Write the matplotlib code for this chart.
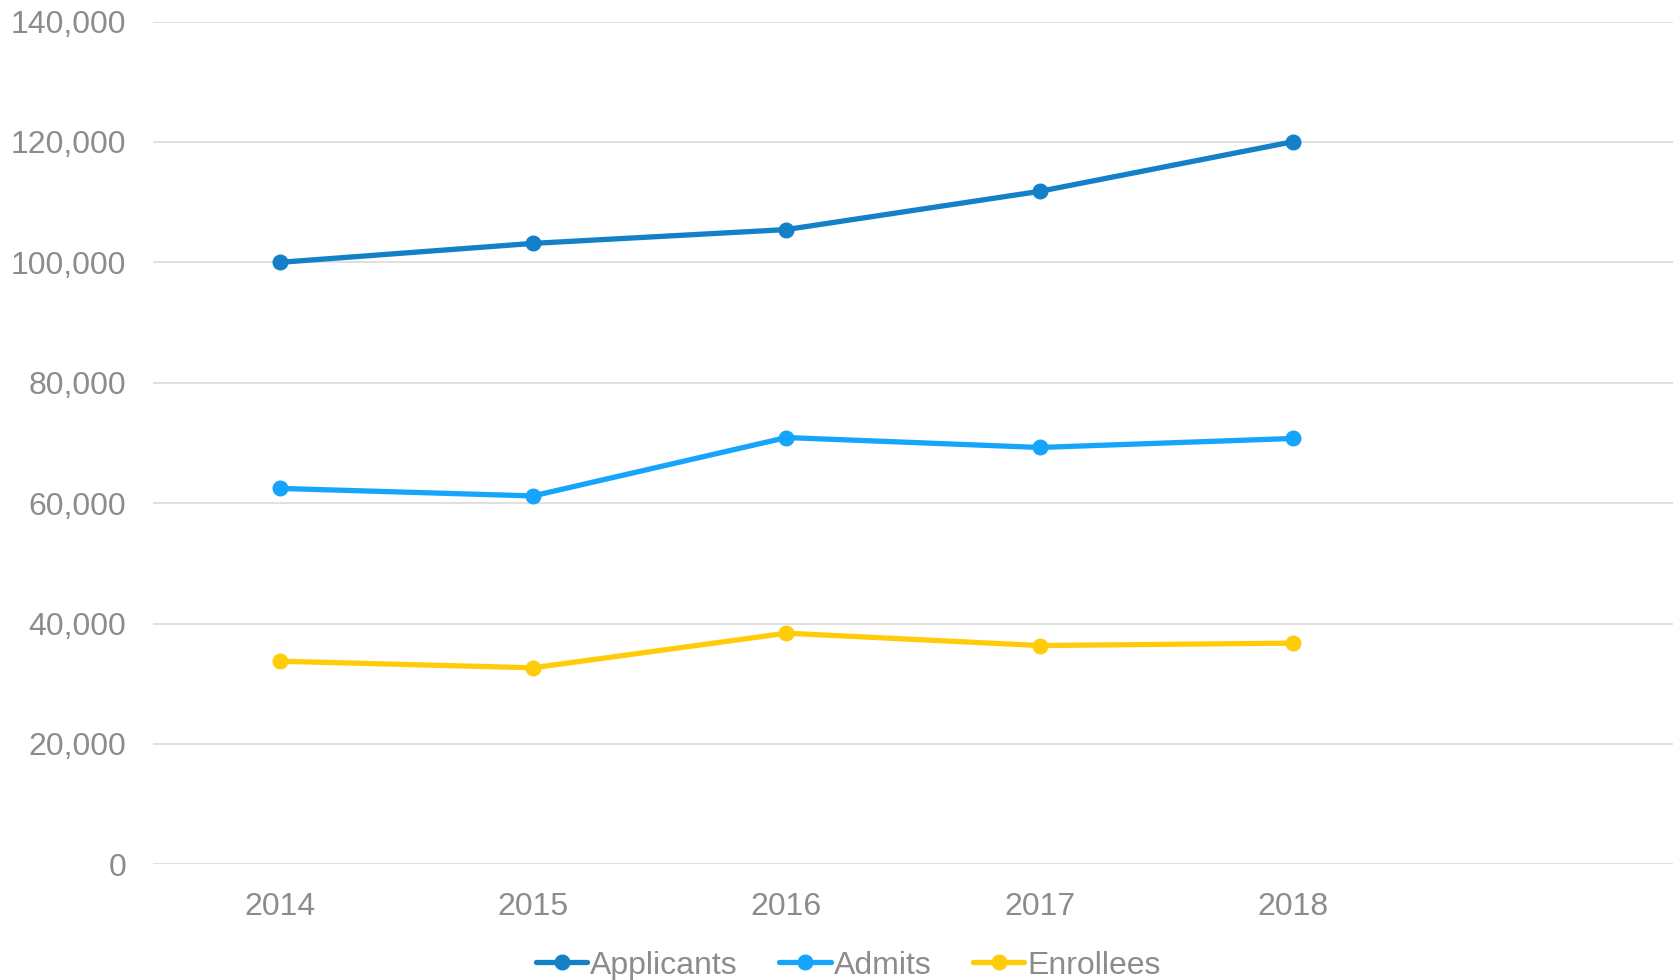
import matplotlib.pyplot as plt
from matplotlib.ticker import FuncFormatter

years = ['2014', '2015', '2016', '2017', '2018']
applicants = [100000, 103150, 105450, 111800, 120050]
admits = [62450, 61200, 70900, 69250, 70750]
enrollees = [33750, 32650, 38400, 36350, 36750]

series = [
    ('Applicants', applicants, '#1380c8'),
    ('Admits', admits, '#16a5fc'),
    ('Enrollees', enrollees, '#ffcc0a'),
]

plt.rcParams['font.family'] = ['Liberation Sans', 'DejaVu Sans']
grey = '#8c8c8c'

fig = plt.figure(figsize=(16.8, 9.8), dpi=100)
ax = fig.add_axes([0.091, 0.118, 0.905, 0.86])

x = list(range(len(years)))
for name, vals, col in series:
    ax.plot(x, vals, color=col, linewidth=3.8, marker='o', markersize=10.5,
            label=name, solid_capstyle='round', zorder=3)

ax.set_xlim(-0.5, 5.5)
ax.set_ylim(0, 140000)
ax.set_xticks(x)
ax.set_xticklabels(years)
ax.set_yticks(range(0, 140001, 20000))
ax.yaxis.set_major_formatter(FuncFormatter(lambda v, p: f'{int(v):,}'))

ax.grid(axis='y', color='#e0e0e0', linewidth=1.4)
ax.set_axisbelow(True)
for s in ax.spines.values():
    s.set_visible(False)
ax.tick_params(axis='both', length=0, labelsize=23, labelcolor=grey)
ax.tick_params(axis='x', pad=20)
ax.tick_params(axis='y', pad=19)

leg = fig.legend(loc='lower center', bbox_to_anchor=(0.505, -0.03), ncol=3,
                 frameon=False, fontsize=23, handlelength=1.6,
                 handletextpad=0.1, columnspacing=1.3)
for t in leg.get_texts():
    t.set_color(grey)

fig.savefig('out.png', dpi=100)
